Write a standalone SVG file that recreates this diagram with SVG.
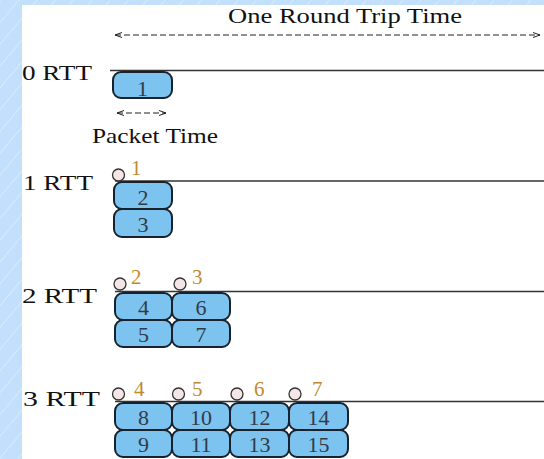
<svg xmlns="http://www.w3.org/2000/svg" width="544" height="459" viewBox="0 0 544 459">
<defs>
<pattern id="stripes" width="14" height="14" patternUnits="userSpaceOnUse" patternTransform="rotate(40)">
<rect width="14" height="14" fill="#c2dffb"/>
<line x1="0" y1="0" x2="0" y2="14" stroke="#deeefd" stroke-width="1.5"/>
</pattern>
<marker id="ah" markerWidth="8" markerHeight="6" refX="7" refY="3" orient="auto-start-reverse" markerUnits="userSpaceOnUse">
<path d="M0,0.5 L7,3 L0,5.5" fill="none" stroke="#222" stroke-width="1"/>
</marker>
<style>
.lbl{font-family:"Liberation Serif",serif;font-size:22px;fill:#111}
.num{font-family:"Liberation Serif",serif;font-size:22px;fill:#333a48;text-anchor:middle}
.ack{font-family:"Liberation Serif",serif;font-size:21px;fill:#c28a2c}
.pkt{fill:#7cc3ef;stroke:#18212c;stroke-width:2}
.ackc{fill:#f4e6e6;stroke:#333;stroke-width:1.3}
.tl{stroke:#333;stroke-width:1.5}
.dash{stroke:#222;stroke-width:1.2;stroke-dasharray:6,3;fill:none}
</style>
</defs>
<rect width="544" height="459" fill="#ffffff"/>
<rect x="0" y="0" width="22" height="459" fill="url(#stripes)"/>
<rect x="0" y="0" width="544" height="5" fill="url(#stripes)"/>

<text class="lbl" x="228" y="23" textLength="234" lengthAdjust="spacingAndGlyphs">One Round Trip Time</text>

<g id="connectors">
<line class="dash" x1="115" y1="35" x2="540" y2="35" marker-start="url(#ah)" marker-end="url(#ah)"/>
<line class="dash" x1="117" y1="113" x2="166" y2="113" stroke-dasharray="5,3" marker-start="url(#ah)" marker-end="url(#ah)"/>
<line class="tl" x1="110" y1="70.5" x2="544" y2="70.5"/>
<line class="tl" x1="115" y1="181" x2="544" y2="181"/>
<line class="tl" x1="115" y1="291.5" x2="544" y2="291.5"/>
<line class="tl" x1="115" y1="401.5" x2="544" y2="401.5"/>
</g>

<g id="rtt0">
<text class="lbl" x="22" y="80" textLength="70" lengthAdjust="spacingAndGlyphs">0 RTT</text>
<rect class="pkt" x="113" y="72" width="59" height="26" rx="8"/>
<text class="num" x="142.5" y="96">1</text>
<text class="lbl" x="92" y="143" textLength="126" lengthAdjust="spacingAndGlyphs">Packet Time</text>
</g>

<g id="rtt1">
<text class="lbl" x="23" y="190" textLength="70" lengthAdjust="spacingAndGlyphs">1 RTT</text>
<circle class="ackc" cx="118.5" cy="175" r="6"/>
<text class="ack" x="131" y="175">1</text>
<rect class="pkt" x="114" y="182" width="58" height="27" rx="8"/>
<text class="num" x="143" y="205">2</text>
<rect class="pkt" x="114" y="209" width="58" height="28" rx="8"/>
<text class="num" x="143" y="232">3</text>
</g>

<g id="rtt2">
<text class="lbl" x="22" y="303" textLength="75" lengthAdjust="spacingAndGlyphs">2 RTT</text>
<circle class="ackc" cx="120" cy="284" r="6"/>
<text class="ack" x="131" y="284">2</text>
<circle class="ackc" cx="180" cy="284" r="6"/>
<text class="ack" x="192" y="284">3</text>
<rect class="pkt" x="115" y="293" width="57" height="27" rx="8"/>
<text class="num" x="143.5" y="315">4</text>
<rect class="pkt" x="115" y="320" width="57" height="27" rx="8"/>
<text class="num" x="143.5" y="342">5</text>
<rect class="pkt" x="172" y="293" width="58" height="27" rx="8"/>
<text class="num" x="201" y="315">6</text>
<rect class="pkt" x="172" y="320" width="58" height="27" rx="8"/>
<text class="num" x="201" y="342">7</text>
</g>

<g id="rtt3">
<text class="lbl" x="23" y="406" textLength="77" lengthAdjust="spacingAndGlyphs">3 RTT</text>
<circle class="ackc" cx="118.5" cy="394" r="6"/>
<text class="ack" x="134" y="396">4</text>
<circle class="ackc" cx="178.5" cy="394" r="6"/>
<text class="ack" x="192" y="396">5</text>
<circle class="ackc" cx="237" cy="394" r="6"/>
<text class="ack" x="254" y="396">6</text>
<circle class="ackc" cx="295" cy="394" r="6"/>
<text class="ack" x="312" y="396">7</text>
<rect class="pkt" x="115" y="403" width="57" height="27" rx="8"/>
<text class="num" x="143.5" y="425">8</text>
<rect class="pkt" x="115" y="430" width="57" height="27" rx="8"/>
<text class="num" x="143.5" y="452">9</text>
<rect class="pkt" x="172" y="403" width="58" height="27" rx="8"/>
<text class="num" x="201" y="425">10</text>
<rect class="pkt" x="172" y="430" width="58" height="27" rx="8"/>
<text class="num" x="201" y="452">11</text>
<rect class="pkt" x="230" y="403" width="59" height="27" rx="8"/>
<text class="num" x="259.5" y="425">12</text>
<rect class="pkt" x="230" y="430" width="59" height="27" rx="8"/>
<text class="num" x="259.5" y="452">13</text>
<rect class="pkt" x="289" y="403" width="59" height="27" rx="8"/>
<text class="num" x="318.5" y="425">14</text>
<rect class="pkt" x="289" y="430" width="59" height="27" rx="8"/>
<text class="num" x="318.5" y="452">15</text>
</g>
</svg>
